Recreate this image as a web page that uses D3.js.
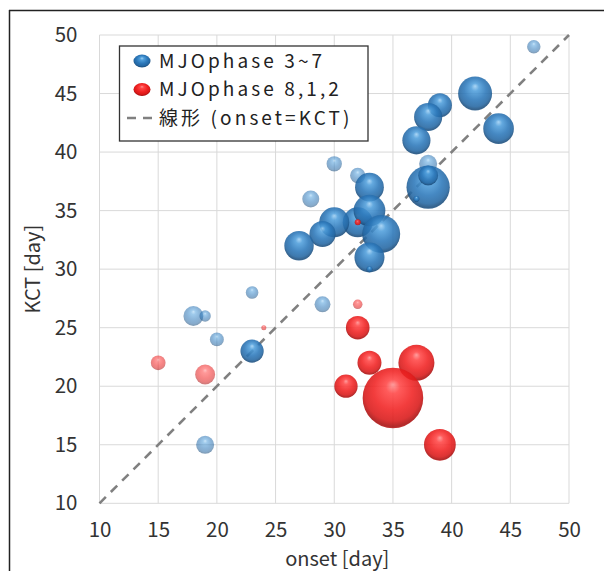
<!DOCTYPE html>
<html>
<head>
<meta charset="utf-8">
<script src="https://cdn.jsdelivr.net/npm/d3@7"></script>
<style>
  body { margin: 0; background: #fff; }
  svg { display: block; font-family: "Noto Sans CJK JP", "Noto Sans", sans-serif; }
</style>
</head>
<body>
<svg id="chart" width="604" height="571"></svg>
<script>
// MJO phase 3~7 (blue) : onset, KCT, bubble size, faint flag
const blueOnset = [47, 42, 39, 38, 44, 37, 38, 38, 38, 37, 30, 32, 33, 28, 32, 33, 30, 29, 34, 27, 33, 33, 23, 29, 18, 19, 20, 23, 19];
const blueKCT   = [49, 45, 44, 43, 42, 41, 39, 37, 38, 36, 39, 38, 37, 36, 34, 35, 34, 33, 33, 32, 31, 30, 28, 27, 26, 26, 24, 23, 15];
const blueSize  = [5, 32, 16, 22, 26, 22, 9, 52, 11, 1, 6.5, 6.5, 23, 8, 25, 28, 25, 19, 40, 24, 25, 1, 4.4, 7, 11, 3.6, 5.4, 15, 9];
const blueFaint = [1, 0, 0, 0, 0, 0, 1, 0, 0, 0, 1, 1, 0, 1, 0, 0, 0, 0, 0, 0, 0, 0, 1, 1, 1, 1, 1, 0, 1];

// MJO phase 8,1,2 (red)
const redOnset = [32, 32, 24, 32, 15, 33, 37, 19, 31, 35, 39];
const redKCT   = [34, 27, 25, 25, 22, 22, 22, 21, 20, 19, 15];
const redSize  = [1, 2.5, 0.7, 15.5, 6, 16, 36, 11, 15, 102, 28];
const redFaint = [0, 1, 1, 0, 1, 0, 0, 1, 0, 0, 0];

const ticks = [10, 15, 20, 25, 30, 35, 40, 45, 50];
const legendLabels = ["MJOphase 3~7", "MJOphase 8,1,2", "線形 (onset=KCT)"];

const svg = d3.select('#chart');
const plotL = 99.5, plotR = 569, plotT = 35, plotB = 503.3;

const x = d3.scaleLinear().domain([10, 50]).range([plotL, plotR]);
const y = d3.scaleLinear().domain([10, 50]).range([plotB, plotT]);
const r = d3.scaleSqrt().domain([0, 102]).range([0, 30.3]);

// outer frame
svg.append('line').attr('x1', 9.5).attr('x2', 9.5).attr('y1', 10).attr('y2', 571)
  .attr('stroke', '#222').attr('stroke-width', 1.5);
svg.append('line').attr('x1', 9).attr('x2', 604).attr('y1', 10.5).attr('y2', 10.5)
  .attr('stroke', '#222').attr('stroke-width', 1.5);

// GRADIENTS
const defs = svg.append('defs');
function sphere(id, stops) {
  const g = defs.append('radialGradient').attr('id', id)
    .attr('cx', '50%').attr('cy', '45%').attr('r', '58%')
    .attr('fx', '50%').attr('fy', '28%');
  stops.forEach(s => g.append('stop').attr('offset', s[0]).attr('stop-color', s[1]));
}
sphere('blue', [['0%', '#9fd0f4'], ['20%', '#4f9edb'], ['55%', '#2c78ba'], ['80%', '#2467a3'], ['92%', '#1b4d7c'], ['100%', '#2a6396']]);
sphere('red', [['0%', '#ff9090'], ['20%', '#ff4545'], ['55%', '#f02222'], ['80%', '#d81818'], ['92%', '#a80e0e'], ['100%', '#c82020']]);

// GRID
const grid = svg.append('g');
grid.selectAll('.gx').data(ticks).enter().append('line')
  .attr('x1', d => x(d)).attr('x2', d => x(d)).attr('y1', plotT).attr('y2', plotB)
  .attr('stroke', '#d9d9d9').attr('stroke-width', 1);
grid.selectAll('.gy').data(ticks).enter().append('line')
  .attr('y1', d => y(d)).attr('y2', d => y(d)).attr('x1', plotL).attr('x2', plotR)
  .attr('stroke', '#d9d9d9').attr('stroke-width', 1);

// AXES (labels only)
const xAxis = svg.append('g').attr('transform', `translate(0,${plotB})`)
  .call(d3.axisBottom(x).tickValues(ticks).tickSize(0).tickPadding(19));
const yAxis = svg.append('g').attr('transform', `translate(${plotL},0)`)
  .call(d3.axisLeft(y).tickValues(ticks).tickSize(0).tickPadding(22));
[xAxis, yAxis].forEach(a => {
  a.select('.domain').remove();
  a.selectAll('text').attr('font-size', 20.5).attr('fill', '#333')
    .attr('font-family', '"Noto Sans CJK JP", sans-serif');
});

svg.append('text').attr('x', (plotL + plotR) / 2 + 3).attr('y', 566)
  .attr('text-anchor', 'middle').attr('font-size', 20).attr('fill', '#333')
  .text('onset [day]');
svg.append('text').attr('transform', `translate(40,${(plotT + plotB) / 2}) rotate(-90)`)
  .attr('text-anchor', 'middle').attr('font-size', 20).attr('fill', '#333')
  .text('KCT [day]');

// 1:1 LINE
svg.append('line')
  .attr('x1', x(10)).attr('y1', y(10)).attr('x2', x(50)).attr('y2', y(50))
  .attr('stroke', '#808080').attr('stroke-width', 2.6).attr('stroke-dasharray', '9,7');

// BUBBLES
function series(onset, kct, size, faint, grad) {
  const pts = onset.map((d, i) => ({ onset: d, kct: kct[i], size: size[i], faint: faint[i] }));
  svg.append('g').selectAll('circle').data(pts).enter().append('circle')
    .attr('cx', d => x(d.onset)).attr('cy', d => y(d.kct)).attr('r', d => r(d.size))
    .attr('fill', `url(#${grad})`)
    .attr('opacity', d => d.faint ? 0.55 : 0.88);
}
series(blueOnset, blueKCT, blueSize, blueFaint, 'blue');
series(redOnset, redKCT, redSize, redFaint, 'red');

// LEGEND
const lg = svg.append('g');
lg.append('rect').attr('x', 119.5).attr('y', 46).attr('width', 248.5).attr('height', 95)
  .attr('fill', '#fff').attr('stroke', '#333').attr('stroke-width', 1.3);
const rowY = [61, 89.5, 118];
lg.append('ellipse').attr('cx', 142).attr('cy', rowY[0]).attr('rx', 8.5).attr('ry', 6.5).attr('fill', 'url(#blue)');
lg.append('ellipse').attr('cx', 142).attr('cy', rowY[1]).attr('rx', 8.5).attr('ry', 6.5).attr('fill', 'url(#red)');
lg.append('line').attr('x1', 127).attr('x2', 157).attr('y1', rowY[2]).attr('y2', rowY[2])
  .attr('stroke', '#808080').attr('stroke-width', 2.6).attr('stroke-dasharray', '9,7');
lg.selectAll('.lt').data(legendLabels).enter().append('text')
  .attr('x', 159).attr('y', (d, i) => rowY[i]).attr('dy', '0.36em')
  .attr('font-size', 19).attr('letter-spacing', 3.1).attr('fill', '#222').text(d => d);
</script>
</body>
</html>
